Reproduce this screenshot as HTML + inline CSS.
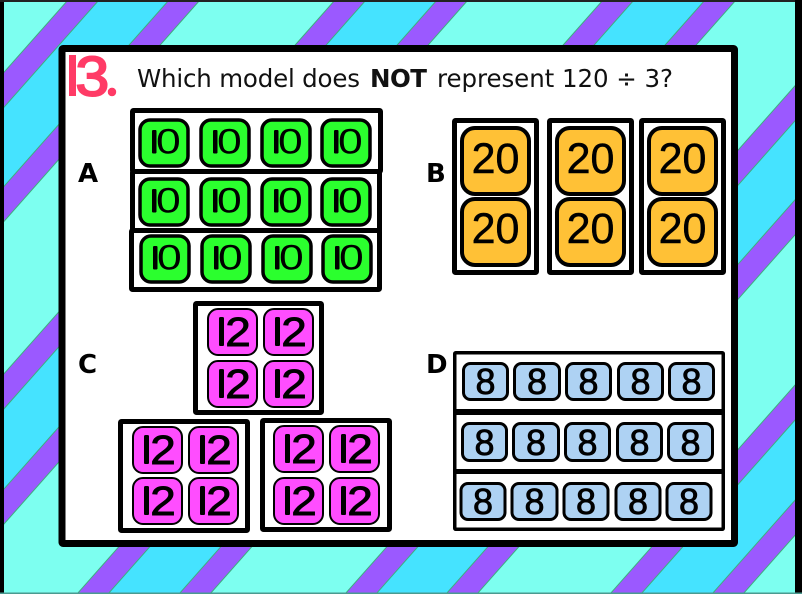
<!DOCTYPE html>
<html><head><meta charset="utf-8"><style>
html,body{margin:0;padding:0;background:#fff}
svg{display:block}
text{font-family:"Liberation Sans",sans-serif;fill:#000}
.q{font-family:"DejaVu Sans",sans-serif;font-size:24.5px;fill:#111}
.l{font-family:"DejaVu Sans",sans-serif;font-size:26px;font-weight:700}
.f{fill:#fff;stroke:#000;stroke-width:5}
.A rect{fill:#2bff2e;stroke:#000;stroke-width:3.5}
.A text{font-size:35px}
.B rect{fill:#ffc136;stroke:#000;stroke-width:4}
.B text{font-size:43px;text-anchor:middle;stroke:#000;stroke-width:.5}
.C rect{fill:#ff4dff;stroke:#000;stroke-width:2}
.C text{font-size:41px;stroke:#000;stroke-width:.9}
.D rect{fill:#aed2f3;stroke:#000;stroke-width:3}
.D text{font-size:36px;text-anchor:middle;stroke:#000;stroke-width:.8}
.A text.bar,.C text.bar{font-weight:700;stroke:#000;stroke-width:7}
.p{fill:#9b59ff;stroke:#3fae7f;stroke-width:1}
</style></head><body>
<svg width="802" height="594" viewBox="0 0 802 594" xmlns="http://www.w3.org/2000/svg">
<defs>
<clipPath id="c10"><rect x="14" y="12" width="4.5" height="23.5" rx="1.5"/></clipPath>
<clipPath id="c12"><rect x="12" y="9" width="5" height="29" rx="1.5"/></clipPath>
<clipPath id="c13"><rect x="69" y="55" width="7" height="41"/></clipPath>
<clipPath id="cd"><circle cx="112" cy="92" r="4.2"/></clipPath>
</defs>
<rect width="802" height="594" fill="#7dfff0"/>
<path fill="#45e3ff" d="M99 0H169L-357 594H-427ZM366 0H437L-89 594H-160ZM634 0H705L179 594H108ZM902 0H972L446 594H376ZM1167 0H1238L712 594H641Z"/>
<path class="p" d="M68 0H99L-427 594H-458ZM169 0H200L-326 594H-357ZM335 0H366L-160 594H-191ZM437 0H468L-58 594H-89ZM603 0H634L108 594H77ZM705 0H736L210 594H179ZM871 0H902L376 594H345ZM972 0H1003L477 594H446ZM1136 0H1167L641 594H610ZM1238 0H1269L743 594H712Z"/>
<rect x="0" y="0" width="4" height="594" fill="#000"/>
<rect x="0" y="0" width="802" height="2" fill="#222"/>
<rect x="795" y="0" width="7" height="594" fill="#000"/>
<rect x="0" y="592.5" width="802" height="1.5" fill="#4a9a90"/>

<rect x="62" y="48.5" width="672.5" height="495" rx="1" fill="#fff" stroke="#000" stroke-width="7"/>

<text x="58" y="96" font-size="60" style="font-weight:700;fill:#ff3b66;stroke:#ff3b66;stroke-width:10" clip-path="url(#c13)">1</text>
<text transform="translate(75.5,95.5) scale(1.08,1)" font-size="56" style="fill:#ff3b66;stroke:#ff3b66;stroke-width:2">3</text>
<text x="104" y="96" font-size="56" font-weight="700" style="fill:#ff3b66;stroke:#ff3b66;stroke-width:3" clip-path="url(#cd)">.</text>

<text class="q" x="137" y="87" textLength="223">Which model does</text>
<text class="q" x="370" y="87" font-weight="700" textLength="57">NOT</text>
<text class="q" x="437" y="87" textLength="236">represent 120 ÷ 3?</text>

<text class="l" x="78" y="182">A</text>
<text class="l" x="426" y="182">B</text>
<text class="l" x="78" y="373">C</text>
<text class="l" x="426" y="373">D</text>

<!-- A -->
<rect class="f" x="132.5" y="110.5" width="248" height="61" rx="1"/>
<rect class="f" x="132.5" y="171.5" width="247" height="60" rx="1"/>
<rect class="f" x="131.5" y="230.5" width="248" height="59" rx="1"/>
<g class="A">
<g transform="translate(138,118)"><rect x="2" y="2" width="48" height="46" rx="10"/><text class="bar" x="7.2" y="36" clip-path="url(#c10)">1</text><text transform="translate(18,35.5) scale(1.27,1)">0</text></g>
<g transform="translate(199,118)"><rect x="2" y="2" width="48" height="46" rx="10"/><text class="bar" x="7.2" y="36" clip-path="url(#c10)">1</text><text transform="translate(18,35.5) scale(1.27,1)">0</text></g>
<g transform="translate(260,118)"><rect x="2" y="2" width="48" height="46" rx="10"/><text class="bar" x="7.2" y="36" clip-path="url(#c10)">1</text><text transform="translate(18,35.5) scale(1.27,1)">0</text></g>
<g transform="translate(320,118)"><rect x="2" y="2" width="48" height="46" rx="10"/><text class="bar" x="7.2" y="36" clip-path="url(#c10)">1</text><text transform="translate(18,35.5) scale(1.27,1)">0</text></g>
<g transform="translate(138,177)"><rect x="2" y="2" width="48" height="46" rx="10"/><text class="bar" x="7.2" y="36" clip-path="url(#c10)">1</text><text transform="translate(18,35.5) scale(1.27,1)">0</text></g>
<g transform="translate(199,177)"><rect x="2" y="2" width="48" height="46" rx="10"/><text class="bar" x="7.2" y="36" clip-path="url(#c10)">1</text><text transform="translate(18,35.5) scale(1.27,1)">0</text></g>
<g transform="translate(260,177)"><rect x="2" y="2" width="48" height="46" rx="10"/><text class="bar" x="7.2" y="36" clip-path="url(#c10)">1</text><text transform="translate(18,35.5) scale(1.27,1)">0</text></g>
<g transform="translate(320,177)"><rect x="2" y="2" width="48" height="46" rx="10"/><text class="bar" x="7.2" y="36" clip-path="url(#c10)">1</text><text transform="translate(18,35.5) scale(1.27,1)">0</text></g>
<g transform="translate(139,234)"><rect x="2" y="2" width="48" height="46" rx="10"/><text class="bar" x="7.2" y="36" clip-path="url(#c10)">1</text><text transform="translate(18,35.5) scale(1.27,1)">0</text></g>
<g transform="translate(200,234)"><rect x="2" y="2" width="48" height="46" rx="10"/><text class="bar" x="7.2" y="36" clip-path="url(#c10)">1</text><text transform="translate(18,35.5) scale(1.27,1)">0</text></g>
<g transform="translate(261,234)"><rect x="2" y="2" width="48" height="46" rx="10"/><text class="bar" x="7.2" y="36" clip-path="url(#c10)">1</text><text transform="translate(18,35.5) scale(1.27,1)">0</text></g>
<g transform="translate(321,234)"><rect x="2" y="2" width="48" height="46" rx="10"/><text class="bar" x="7.2" y="36" clip-path="url(#c10)">1</text><text transform="translate(18,35.5) scale(1.27,1)">0</text></g>
</g>

<!-- B -->
<rect class="f" x="454.5" y="120.5" width="82" height="152" rx="1"/>
<rect class="f" x="549.5" y="120.5" width="82" height="152" rx="1"/>
<rect class="f" x="641.5" y="120.5" width="82" height="152" rx="1"/>
<g class="B">
<g transform="translate(460,126)"><rect x="2" y="2" width="67" height="66" rx="13"/><text x="35.5" y="47">20</text></g>
<g transform="translate(460,197)"><rect x="2" y="2" width="67" height="66" rx="13"/><text x="35.5" y="46">20</text></g>
<g transform="translate(555,126)"><rect x="2" y="2" width="67" height="66" rx="13"/><text x="35.5" y="47">20</text></g>
<g transform="translate(555,197)"><rect x="2" y="2" width="67" height="66" rx="13"/><text x="35.5" y="46">20</text></g>
<g transform="translate(647,126)"><rect x="2" y="2" width="67" height="66" rx="13"/><text x="35.5" y="47">20</text></g>
<g transform="translate(647,197)"><rect x="2" y="2" width="67" height="66" rx="13"/><text x="35.5" y="46">20</text></g>
</g>

<!-- C -->
<rect class="f" x="195.5" y="303.5" width="126" height="109" rx="1"/>
<rect class="f" x="120.5" y="421.5" width="127" height="109" rx="1"/>
<rect class="f" x="262.5" y="420.5" width="127" height="109" rx="1"/>
<g class="C">
<g transform="translate(207,308)"><rect x="1" y="1" width="49" height="46" rx="10"/><text class="bar" x="3.8" y="38" clip-path="url(#c12)">1</text><text transform="translate(18.2,38) scale(1.12,1)">2</text></g>
<g transform="translate(263,308)"><rect x="1" y="1" width="49" height="46" rx="10"/><text class="bar" x="3.8" y="38" clip-path="url(#c12)">1</text><text transform="translate(18.2,38) scale(1.12,1)">2</text></g>
<g transform="translate(207,360)"><rect x="1" y="1" width="49" height="46" rx="10"/><text class="bar" x="3.8" y="38" clip-path="url(#c12)">1</text><text transform="translate(18.2,38) scale(1.12,1)">2</text></g>
<g transform="translate(263,360)"><rect x="1" y="1" width="49" height="46" rx="10"/><text class="bar" x="3.8" y="38" clip-path="url(#c12)">1</text><text transform="translate(18.2,38) scale(1.12,1)">2</text></g>
<g transform="translate(132,426)"><rect x="1" y="1" width="49" height="46" rx="10"/><text class="bar" x="3.8" y="38" clip-path="url(#c12)">1</text><text transform="translate(18.2,38) scale(1.12,1)">2</text></g>
<g transform="translate(188,426)"><rect x="1" y="1" width="49" height="46" rx="10"/><text class="bar" x="3.8" y="38" clip-path="url(#c12)">1</text><text transform="translate(18.2,38) scale(1.12,1)">2</text></g>
<g transform="translate(132,477)"><rect x="1" y="1" width="49" height="46" rx="10"/><text class="bar" x="3.8" y="38" clip-path="url(#c12)">1</text><text transform="translate(18.2,38) scale(1.12,1)">2</text></g>
<g transform="translate(188,477)"><rect x="1" y="1" width="49" height="46" rx="10"/><text class="bar" x="3.8" y="38" clip-path="url(#c12)">1</text><text transform="translate(18.2,38) scale(1.12,1)">2</text></g>
<g transform="translate(273,425)"><rect x="1" y="1" width="49" height="46" rx="10"/><text class="bar" x="3.8" y="38" clip-path="url(#c12)">1</text><text transform="translate(18.2,38) scale(1.12,1)">2</text></g>
<g transform="translate(329,425)"><rect x="1" y="1" width="49" height="46" rx="10"/><text class="bar" x="3.8" y="38" clip-path="url(#c12)">1</text><text transform="translate(18.2,38) scale(1.12,1)">2</text></g>
<g transform="translate(273,477)"><rect x="1" y="1" width="49" height="46" rx="10"/><text class="bar" x="3.8" y="38" clip-path="url(#c12)">1</text><text transform="translate(18.2,38) scale(1.12,1)">2</text></g>
<g transform="translate(329,477)"><rect x="1" y="1" width="49" height="46" rx="10"/><text class="bar" x="3.8" y="38" clip-path="url(#c12)">1</text><text transform="translate(18.2,38) scale(1.12,1)">2</text></g>
</g>

<!-- D -->
<rect x="454.75" y="352.75" width="268.5" height="176.5" fill="#fff" stroke="#000" stroke-width="3.5" rx="1"/>
<rect x="453" y="409" width="272" height="6" fill="#000"/>
<rect x="453" y="469" width="272" height="5" fill="#000"/>
<g class="D">
<g transform="translate(462,362)"><rect x="1.5" y="1.5" width="44" height="36" rx="7"/><text x="23.5" y="32">8</text></g>
<g transform="translate(513,362)"><rect x="1.5" y="1.5" width="45" height="36" rx="7"/><text x="24" y="32">8</text></g>
<g transform="translate(565,362)"><rect x="1.5" y="1.5" width="44" height="36" rx="7"/><text x="23.5" y="32">8</text></g>
<g transform="translate(617,362)"><rect x="1.5" y="1.5" width="44" height="36" rx="7"/><text x="23.5" y="32">8</text></g>
<g transform="translate(668,362)"><rect x="1.5" y="1.5" width="44" height="36" rx="7"/><text x="23.5" y="32">8</text></g>
<g transform="translate(461,422)"><rect x="1.5" y="1.5" width="44" height="37" rx="7"/><text x="23.5" y="33">8</text></g>
<g transform="translate(512,422)"><rect x="1.5" y="1.5" width="45" height="37" rx="7"/><text x="24" y="33">8</text></g>
<g transform="translate(564,422)"><rect x="1.5" y="1.5" width="44" height="37" rx="7"/><text x="23.5" y="33">8</text></g>
<g transform="translate(616,422)"><rect x="1.5" y="1.5" width="44" height="37" rx="7"/><text x="23.5" y="33">8</text></g>
<g transform="translate(667,422)"><rect x="1.5" y="1.5" width="44" height="37" rx="7"/><text x="23.5" y="33">8</text></g>
<g transform="translate(459.5,482)"><rect x="1.5" y="1.5" width="44" height="36" rx="7"/><text x="23.5" y="32">8</text></g>
<g transform="translate(510.5,482)"><rect x="1.5" y="1.5" width="45" height="36" rx="7"/><text x="24" y="32">8</text></g>
<g transform="translate(562.5,482)"><rect x="1.5" y="1.5" width="44" height="36" rx="7"/><text x="23.5" y="32">8</text></g>
<g transform="translate(614.5,482)"><rect x="1.5" y="1.5" width="44" height="36" rx="7"/><text x="23.5" y="32">8</text></g>
<g transform="translate(665.5,482)"><rect x="1.5" y="1.5" width="44" height="36" rx="7"/><text x="23.5" y="32">8</text></g>
</g>
</svg>
</body></html>
